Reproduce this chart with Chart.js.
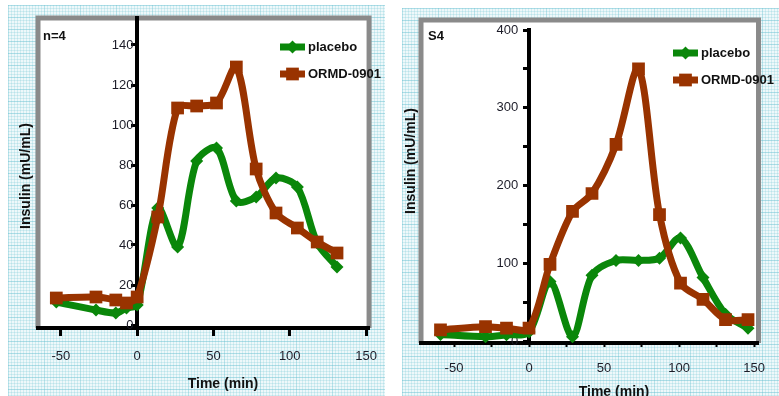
<!DOCTYPE html>
<html>
<head>
<meta charset="utf-8">
<script src="https://cdn.jsdelivr.net/npm/chart.js@4.4.1/dist/chart.umd.min.js"></script>
<style>
  html, body { margin: 0; padding: 0; background: #fff; }
  body { width: 779px; height: 396px; position: relative; overflow: hidden; }
  .bg {
    position: absolute;
    background-color: #eef8fa;
    background-image:
      linear-gradient(to bottom, rgba(90, 185, 205, 0.3) 1px, transparent 1px),
      linear-gradient(to right, rgba(90, 185, 205, 0.2) 1px, transparent 1px),
      linear-gradient(to bottom, rgba(120, 200, 215, 0.25) 1px, transparent 1px),
      linear-gradient(to right, rgba(120, 200, 215, 0.25) 1px, transparent 1px);
    background-size: 12px 12px, 36px 36px, 3px 3px, 3px 3px;
  }
  #bgLeft { left: 8px; top: 5px; width: 377px; height: 391px; }
  #bgRight { left: 402px; top: 8px; width: 377px; height: 388px; }
  .panel { position: absolute; top: 0; }
  #wrapLeft { left: 0; }
  #wrapRight { left: 390px; }
</style>
</head>
<body>
<div class="bg" id="bgLeft"></div>
<div class="bg" id="bgRight"></div>
<div class="panel" id="wrapLeft"><canvas id="left" width="390" height="396"></canvas></div>
<div class="panel" id="wrapRight"><canvas id="right" width="389" height="396"></canvas></div>
<script>
// time points (min) and insulin values (mU/mL)
const leftTime = [-53, -27, -14, -7, 0, 13.5, 26.5, 39, 52, 65, 78, 91, 105, 118, 131];
const leftPlacebo = [11.5, 7.5, 6, 8.5, 10, 58.5, 39, 82, 88.5, 62, 64, 73.5, 69, 41, 29];
const leftOrmd = [13.5, 14, 12.5, 11, 14, 54, 108.5, 109.5, 111, 129, 78, 56, 48.5, 41.5, 36];

const rightTime = [-59, -29, -15, 0, 14, 29, 42, 58, 73, 87, 101, 116, 131, 146];
const rightPlacebo = [9, 6, 8.5, 12, 77, 6, 85, 104, 104, 107, 133, 82, 35, 17];
const rightOrmd = [15, 19, 17, 17, 99, 167, 190, 253, 350, 163, 75, 54, 28, 28];

const xTicksLeft = [-50, 0, 50, 100, 150];
const xTicksRight = [-50, -25, 0, 25, 50, 75, 100, 125, 150];
const yTicksLeft = [0, 20, 40, 60, 80, 100, 120, 140];
const yTicksRight = [0, 50, 100, 150, 200, 250, 300, 350, 400];

const GREEN = '#0a870a';
const BROWN = '#993300';
const TICK = '#1c1c28';
const FONT = '"Liberation Sans", Arial, sans-serif';

Chart.defaults.font.family = FONT;

function marker(ctx, style, x, y, r) {
  ctx.beginPath();
  if (style === 'rect') {
    const s = Math.SQRT1_2 * r;
    ctx.rect(x - s, y - s, 2 * s, 2 * s);
  } else {
    ctx.moveTo(x, y - r); ctx.lineTo(x + r, y); ctx.lineTo(x, y + r); ctx.lineTo(x - r, y);
    ctx.closePath();
  }
  ctx.fill();
}

const panelDeco = {
  id: 'panelDeco',
  beforeDraw(chart, args, o) {
    const {ctx, chartArea: a} = chart;
    const top = a.top - o.frameTop;
    ctx.save();
    ctx.fillStyle = '#fff';
    ctx.fillRect(a.left, top, a.right - a.left, a.bottom - top);
    ctx.strokeStyle = '#8a8a8a';
    ctx.lineWidth = 5;
    ctx.beginPath();
    ctx.moveTo(a.left, a.bottom);
    ctx.lineTo(a.left, top);
    ctx.lineTo(a.right, top);
    ctx.lineTo(a.right, a.bottom);
    ctx.stroke();
    ctx.restore();
  },
  afterDraw(chart, args, o) {
    const ctx = chart.ctx;
    ctx.save();
    ctx.fillStyle = '#111';
    ctx.textBaseline = 'middle';
    ctx.textAlign = 'left';
    ctx.font = 'bold 13px ' + FONT;
    ctx.fillText(o.tag, o.tagX, o.tagY);

    // legend: line + marker, then label
    chart.data.datasets.forEach((ds, i) => {
      const y = o.legendY + i * 27;
      ctx.strokeStyle = ds.borderColor;
      ctx.fillStyle = ds.backgroundColor;
      ctx.lineWidth = 7;
      ctx.beginPath();
      ctx.moveTo(o.legendX, y);
      ctx.lineTo(o.legendX + 25, y);
      ctx.stroke();
      marker(ctx, ds.pointStyle, o.legendX + 12.5, y, ds.pointRadius);
      ctx.fillStyle = '#111';
      ctx.font = 'bold 13px ' + FONT;
      ctx.fillText(ds.label, o.legendX + 28, y);
    });

    ctx.font = 'bold 14px ' + FONT;
    ctx.textAlign = 'center';
    ctx.fillText('Time (min)', o.xTitleX, o.xTitleY);
    ctx.translate(o.yTitleX, o.yTitleY);
    ctx.rotate(-Math.PI / 2);
    ctx.fillText('Insulin (mU/mL)', 0, 0);
    ctx.restore();
  }
};

function makeChart(id, time, placebo, ormd, s) {
  return new Chart(document.getElementById(id), {
    type: 'line',
    data: {
      datasets: [
        {
          label: 'placebo',
          data: time.map((t, i) => ({x: t, y: placebo[i]})),
          borderColor: GREEN, backgroundColor: GREEN,
          borderWidth: 7, borderJoinStyle: 'round', borderCapStyle: 'round',
          pointStyle: 'rectRot', pointRadius: 6.5, pointBorderWidth: 0,
          tension: 0.3, order: 1
        },
        {
          label: 'ORMD-0901',
          data: time.map((t, i) => ({x: t, y: ormd[i]})),
          borderColor: BROWN, backgroundColor: BROWN,
          borderWidth: 7, borderJoinStyle: 'round', borderCapStyle: 'round',
          pointStyle: 'rect', pointRadius: 9, pointBorderWidth: 0,
          tension: 0.3, order: 0
        }
      ]
    },
    options: {
      responsive: false,
      animation: false,
      events: [],
      layout: {padding: s.padding},
      plugins: {
        legend: {display: false},
        tooltip: {enabled: false},
        panelDeco: s.deco
      },
      scales: {
        x: {
          type: 'linear',
          min: s.xMin, max: s.xMax,
          afterBuildTicks: sc => { sc.ticks = s.xTicks.map(v => ({value: v})); },
          afterFit: sc => { sc.height = s.xHeight; },
          ticks: {
            autoSkip: false, maxRotation: 0, padding: s.xPad, color: TICK,
            font: {size: 13},
            callback: v => (v % 50 === 0 ? v : '')
          },
          grid: {
            display: true, drawOnChartArea: false, drawTicks: true,
            tickLength: s.xTickLen, tickWidth: s.xTickWidth, tickColor: '#000'
          },
          border: {display: true, color: '#000', width: 4}
        },
        y: {
          type: 'linear',
          position: {x: 0},
          min: s.yMin, max: s.yMax,
          afterBuildTicks: sc => { sc.ticks = s.yTicks.map(v => ({value: v})); },
          ticks: {
            autoSkip: false, color: TICK,
            font: {size: 13},
            // labels sit right-aligned on the axis; trailing spaces push them clear of it
            callback: v => (v % s.yLabelStep === 0 ? v + s.yGap : '')
          },
          grid: {
            display: true, drawOnChartArea: false, drawTicks: true,
            tickLength: 4, tickWidth: 3, tickColor: '#000'
          },
          border: {display: true, color: '#000', width: 4}
        }
      }
    },
    plugins: [panelDeco]
  });
}

makeChart('left', leftTime, leftPlacebo, leftOrmd, {
  padding: {left: 38, right: 15, top: 18, bottom: 0},
  xMin: -65, xMax: 152, xTicks: xTicksLeft, xHeight: 68, xPad: 13, xTickLen: 8, xTickWidth: 3,
  yMin: -1.5, yMax: 153.5, yTicks: yTicksLeft, yLabelStep: 20, yGap: ' ',
  deco: {frameTop: 0, tag: 'n=4', tagX: 43, tagY: 36, legendX: 280, legendY: 47,
         xTitleX: 223, xTitleY: 384, yTitleX: 26, yTitleY: 176}
});

makeChart('right', rightTime, rightPlacebo, rightOrmd, {
  padding: {left: 31, right: 10, top: 30, bottom: 0},
  xMin: -72, xMax: 153, xTicks: xTicksRight, xHeight: 53, xPad: 14, xTickLen: 4, xTickWidth: 2,
  yMin: -2, yMax: 400, yTicks: yTicksRight, yLabelStep: 100, yGap: '   ',
  deco: {frameTop: 10, tag: 'S4', tagX: 38, tagY: 36, legendX: 283, legendY: 53,
         xTitleX: 224, xTitleY: 392, yTitleX: 21, yTitleY: 161}
});
</script>
</body>
</html>
